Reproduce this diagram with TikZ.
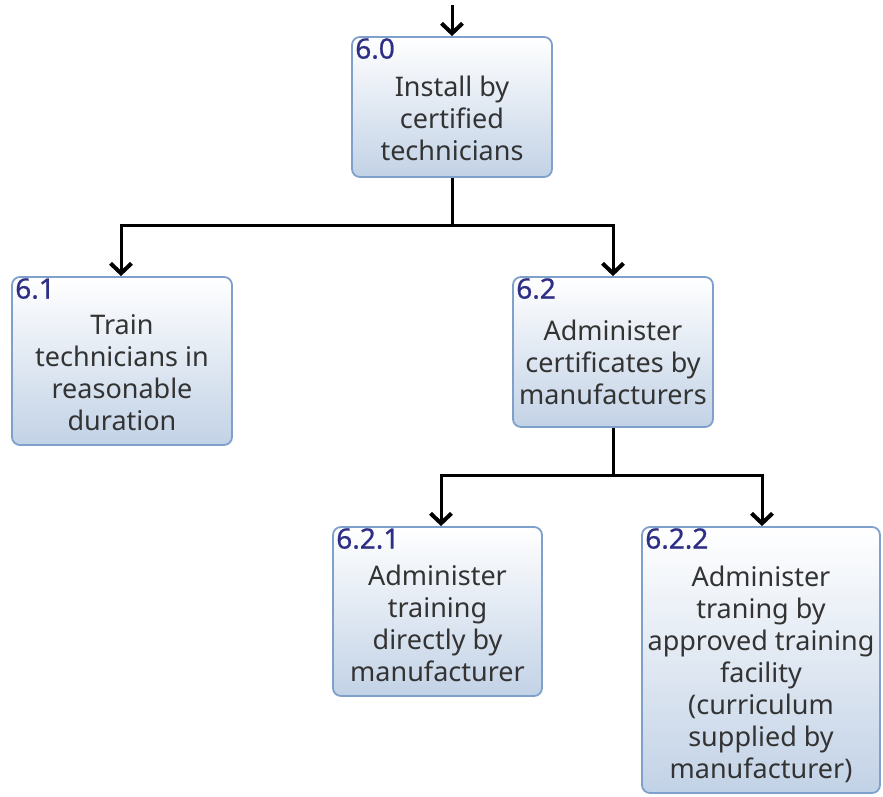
\documentclass[tikz,border=0pt]{standalone}
\usepackage{fontspec}
\setmainfont{Noto Sans}
\newfontfamily\idfont[FakeBold=0.8]{Noto Sans}
\usetikzlibrary{arrows.meta}
\definecolor{boxedge}{HTML}{7FA0CA}
\definecolor{boxbottom}{HTML}{C2D2E6}
\definecolor{idnavy}{HTML}{2E2E86}
\definecolor{bodytext}{HTML}{333333}
\tikzset{
  taskbox/.style={draw=boxedge, line width=1.8pt, rounded corners=8pt,
    top color=white, bottom color=boxbottom, inner sep=0pt},
  taskid/.style={anchor=north west, inner sep=0pt, text=idnavy,
    font=\idfont\fontsize{28}{32}\selectfont},
  tasktext/.style={align=center, inner sep=0pt, text=bodytext,
    font=\fontsize{27}{32}\selectfont},
  link/.style={line width=3pt, -{Straight Barb[length=10pt,width=21pt,line width=4pt]}},
  wire/.style={line width=3pt}
}
\begin{document}
\begin{tikzpicture}[x=1pt,y=-1pt]
\useasboundingbox (0,0) rectangle (883,797);

% task boxes
\node[taskbox, minimum width=200pt, minimum height=140pt] (t60) at (452,107) {};
\node[taskbox, minimum width=220pt, minimum height=168pt] (t61) at (122,361) {};
\node[taskbox, minimum width=200pt, minimum height=150pt] (t62) at (613,352) {};
\node[taskbox, minimum width=209pt, minimum height=169pt] (t621) at (437.5,611.5) {};
\node[taskbox, minimum width=238pt, minimum height=266pt] (t622) at (761,660) {};

% identifiers
\node[taskid] (id60) at ([xshift=4pt,yshift=-2pt]t60.north west) {6.0};
\node[taskid] (id61) at ([xshift=4pt,yshift=-2pt]t61.north west) {6.1};
\node[taskid] (id62) at ([xshift=4pt,yshift=-2pt]t62.north west) {6.2};
\node[taskid] (id621) at ([xshift=4pt,yshift=-2pt]t621.north west) {6.2.1};
\node[taskid] (id622) at ([xshift=4pt,yshift=-2pt]t622.north west) {6.2.2};

% descriptions
\node[tasktext] (x60) at ([yshift=-11pt]t60.center) {Install by\\certified\\technicians};
\node[tasktext] (x61) at ([yshift=-12pt]t61.center) {Train\\technicians in\\reasonable\\duration};
\node[tasktext] (x62) at ([yshift=-10pt]t62.center) {Administer\\certificates by\\manufacturers};
\node[tasktext] (x621) at ([yshift=-12pt]t621.center) {Administer\\training\\directly by\\manufacturer};
\node[tasktext] (x622) at ([yshift=-14pt]t622.center) {Administer\\traning by\\approved training\\facility\\(curriculum\\supplied by\\manufacturer)};

% connectors
\coordinate (entry) at (452,5);
\coordinate (j1) at (452,225);
\coordinate (j2) at (613,475);
\draw[link] (entry) -- (t60.north);
\draw[wire] (t60.south) -- (j1);
\draw[link] (j1) -| ([xshift=-1pt]t61.north);
\draw[link] (j1) -| (t62.north);
\draw[wire] (t62.south) -- (j2);
\draw[link] (j2) -| ([xshift=3.5pt]t621.north);
\draw[link] (j2) -| ([xshift=1pt]t622.north);
\end{tikzpicture}
\end{document}
